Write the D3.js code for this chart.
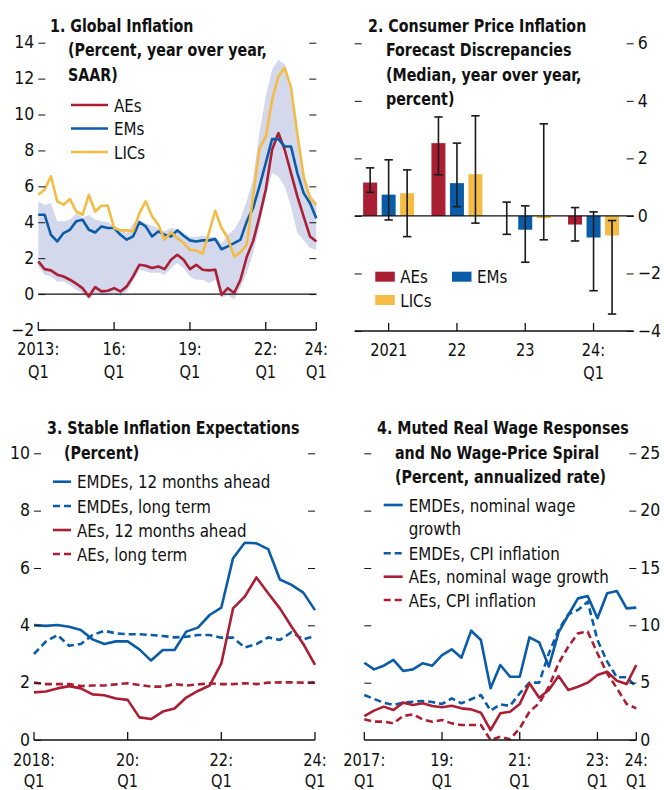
<!DOCTYPE html>
<html>
<head>
<meta charset="utf-8">
<script src="https://cdn.jsdelivr.net/npm/d3@7"></script>
<style>
  body { margin: 0; background: #fff; }
  svg text { font-family: "Liberation Sans Narrow", "DejaVu Sans Condensed", "Roboto Condensed", sans-serif; fill: #111; }
  .title { font-weight: bold; font-size: 18px; }
  .lbl { font-size: 18px; }
  .tick text { font-size: 17.5px; }
</style>
</head>
<body>
<script>
// ---- Panel 1: global inflation, quarterly 2013:Q1 - 2024:Q1 ----
const p1AEs = [1.82, 1.39, 1.32, 1.08, 0.98, 0.8, 0.58, 0.33, -0.13, 0.39, 0.15, 0.19, 0.33, 0.15, 0.43, 0.98,
  1.63, 1.58, 1.45, 1.54, 1.39, 1.91, 2.19, 1.91, 1.39, 1.63, 1.36, 1.32, 1.36, -0.04, 0.33, 0.06,
  0.8, 2.08, 2.95, 4.3, 5.81, 8.04, 8.97, 8.04, 6.74, 5.44, 4.32, 3.21, 2.93];
const p1EMs = [4.42, 4.42, 3.3, 2.93, 3.4, 3.58, 4.05, 4.14, 3.58, 3.43, 3.77, 3.68, 3.68, 3.3, 3.03, 3.21,
  4.0, 3.77, 3.21, 3.49, 3.3, 3.21, 3.55, 3.25, 2.99, 2.93, 2.99, 2.99, 3.06, 2.5, 2.66, 2.84,
  3.03, 4.05, 4.8, 6.0, 7.3, 8.63, 8.63, 8.22, 8.22, 6.74, 5.62, 5.07, 4.23];
const p1LICs = [5.53, 5.81, 6.56, 5.16, 4.98, 5.29, 4.6, 4.42, 5.53, 4.6, 4.92, 4.92, 3.68, 3.55, 3.55, 3.49,
  4.51, 5.16, 4.33, 3.86, 3.03, 3.45, 3.12, 2.84, 2.47, 2.43, 2.25, 3.4, 4.64, 3.68, 3.12, 2.09,
  2.32, 2.75, 5.5, 8.1, 8.75, 10.8, 12.1, 12.6, 11.5, 8.9, 6.55, 5.35, 4.97];
const p1BandHigh = [5.16, 4.98, 5.07, 4.05, 4.05, 4.14, 4.5, 4.25, 4.4, 4.15, 4.05, 4.0, 3.8, 3.6, 3.4, 3.95,
  4.15, 3.95, 3.8, 3.65, 3.5, 3.7, 3.6, 3.4, 3.2, 3.2, 3.25, 3.2, 3.2, 2.8, 3.3, 3.6,
  4.2, 5.2, 6.4, 9.0, 11.0, 12.5, 13.05, 12.8, 11.6, 8.6, 6.4, 5.6, 5.1];
const p1BandLow = [1.54, 1.08, 0.98, 0.7, 0.7, 0.5, 0.24, 0.05, -0.32, 0.05, -0.05, -0.05, 0.05, -0.1, 0.15, 0.7,
  1.36, 1.26, 1.17, 1.2, 1.08, 1.45, 1.73, 1.45, 0.98, 0.8, 0.8, 0.6, 0.8, -0.22, -0.05, -0.32,
  0.4, 1.17, 2.28, 3.77, 5.44, 6.74, 6.55, 5.99, 4.88, 3.4, 3.0, 2.56, 2.47];
const p1XTicks = [0, 12, 24, 36, 44];
const p1XLabels = [["2013:", "Q1"], ["16:", "Q1"], ["19:", "Q1"], ["22:", "Q1"], ["24:", "Q1"]];

// ---- Panel 2: forecast discrepancies ----
const p2Categories = ["2021", "22", "23", "24"];
const p2CatLabels = [["2021"], ["22"], ["23"], ["24:", "Q1"]];
const p2Series = ["AEs", "EMs", "LICs"];
const p2AEs = [1.16, 2.53, 0.0, -0.3];
const p2EMs = [0.74, 1.14, -0.48, -0.75];
const p2LICs = [0.79, 1.45, -0.08, -0.68];
const p2AEsLow = [0.82, 1.43, -0.64, -0.87];
const p2AEsHigh = [1.67, 3.44, 0.48, 0.29];
const p2EMsLow = [-0.14, 0.32, -1.61, -2.6];
const p2EMsHigh = [1.95, 2.53, 0.35, 0.14];
const p2LICsLow = [-0.72, -0.25, -0.83, -3.41];
const p2LICsHigh = [1.6, 3.48, 3.2, -0.16];

// ---- Panel 3: inflation expectations, 2018:Q1 - 2024:Q1 ----
const p3EMDEs12m = [4.01, 3.98, 4.01, 3.95, 3.84, 3.51, 3.35, 3.44, 3.44, 3.16, 2.77, 3.14, 3.14, 3.78, 3.92, 4.36,
  4.62, 6.34, 6.88, 6.86, 6.66, 5.6, 5.41, 5.14, 4.53];
const p3EMDEsLong = [3.0, 3.43, 3.66, 3.29, 3.35, 3.66, 3.81, 3.72, 3.69, 3.69, 3.66, 3.63, 3.58, 3.6, 3.66, 3.66,
  3.57, 3.57, 3.23, 3.34, 3.58, 3.49, 3.76, 3.51, 3.63];
const p3AEs12m = [1.66, 1.69, 1.8, 1.88, 1.8, 1.59, 1.56, 1.45, 1.4, 0.79, 0.73, 0.99, 1.1, 1.48, 1.71, 1.9,
  2.67, 4.59, 5.0, 5.67, 5.12, 4.59, 3.95, 3.35, 2.62];
const p3AEsLong = [2.0, 1.95, 1.95, 1.95, 1.88, 1.9, 1.9, 1.94, 1.98, 1.92, 1.86, 1.86, 1.95, 1.9, 1.94, 1.98,
  1.95, 1.95, 1.98, 1.95, 2.0, 2.01, 2.01, 2.0, 2.01];
const p3XTicks = [0, 8, 16, 24];
const p3XLabels = [["2018:", "Q1"], ["20:", "Q1"], ["22:", "Q1"], ["24:", "Q1"]];

// ---- Panel 4: wages and CPI, 2017:Q1 - 2024:Q1 ----
const p4EMDEsWage = [6.74, 6.16, 6.48, 6.98, 6.02, 6.16, 6.69, 6.48, 7.41, 7.91, 7.18, 9.53, 8.72, 4.51, 6.54, 5.52,
  5.52, 8.95, 8.52, 6.4, 9.39, 10.9, 12.35, 12.56, 10.61, 12.79, 12.99, 11.48, 11.54];
const p4EMDEsCPI = [3.92, 3.58, 3.26, 3.05, 3.26, 3.34, 3.4, 3.31, 3.14, 3.63, 3.2, 3.55, 3.92, 2.56, 3.11, 2.97,
  4.07, 5.0, 5.0, 7.56, 9.59, 10.96, 11.34, 12.06, 8.72, 6.83, 5.47, 5.47, 4.65];
const p4AEsWage = [2.09, 2.56, 2.91, 2.62, 3.26, 3.05, 3.2, 2.97, 2.85, 2.99, 2.76, 2.67, 2.38, 0.87, 2.33, 2.47,
  3.14, 4.94, 3.69, 4.36, 5.58, 4.36, 4.65, 5.0, 5.67, 5.96, 5.17, 4.88, 6.54];
const p4AEsCPI = [1.8, 1.6, 1.6, 1.45, 2.09, 2.24, 1.8, 1.6, 1.74, 1.45, 1.31, 1.31, 1.31, 0.0, 0.29, 0.06,
  1.02, 2.47, 3.2, 4.65, 6.69, 8.14, 9.3, 9.45, 7.56, 5.81, 4.51, 3.14, 2.76];
const p4XTicks = [0, 8, 16, 24, 28];
const p4XLabels = [["2017:", "Q1"], ["19:", "Q1"], ["21:", "Q1"], ["23:", "Q1"], ["24:", "Q1"]];

const RED = "#ab1f35", BLUE = "#0b5ca8", YELLOW = "#f4bb45", BAND = "#d3d8ec";

const svg = d3.select("body").append("svg")
  .attr("width", 664).attr("height", 790);

// the reference uses a narrow face, so squeeze text sideways a little
function label(cls, x, y, t, squeeze, anchor) {
  return svg.append("text").attr("class", cls)
    .attr("transform", `translate(${x},${y}) scale(${squeeze},1)`)
    .attr("text-anchor", anchor || "start").text(t);
}

function yAxis(xPos, scale, side, major, minor, labelled) {
  const mk = side === "left" ? d3.axisLeft : d3.axisRight;
  const g = svg.append("g").attr("transform", `translate(${xPos},0)`);
  g.call(mk(scale).tickValues(minor).tickSize(-3.5).tickFormat(""));
  g.call(mk(scale).tickValues(major).tickSizeInner(-7).tickSizeOuter(0).tickPadding(4)
    .tickFormat(labelled ? d3.format("d") : ""));
  g.selectAll(".domain").remove();
  g.selectAll(".tick line").attr("stroke", "#111");
  g.selectAll(".tick text").attr("dy", "0.3em");
}

function xAxis(y0, x0, x1, positions, labels, first, gap) {
  svg.append("line").attr("x1", x0).attr("x2", x1).attr("y1", y0).attr("y2", y0)
    .attr("stroke", "#111").attr("stroke-width", 1.3);
  positions.forEach((p, i) => {
    svg.append("line").attr("x1", p).attr("x2", p).attr("y1", y0 - 8).attr("y2", y0)
      .attr("stroke", "#111").attr("stroke-width", 1.3);
    labels[i].forEach((t, k) => {
      label("lbl", p, y0 + first + k * gap, t, 0.9, "middle");
    });
  });
}

function title(lines) {
  lines.forEach(([t, x, y]) => label("title", x, y, t, 0.88));
}

function series(x, y, values, color, dashed) {
  const line = d3.line().x((d, i) => x(i)).y(d => y(d));
  svg.append("path").datum(values).attr("d", line)
    .attr("fill", "none").attr("stroke", color).attr("stroke-width", 2.6)
    .attr("stroke-linejoin", "round")
    .attr("stroke-dasharray", dashed ? "7,4" : null);
}

function legendLines(items, x, len) {
  items.forEach(([name, color, dashed, y]) => {
    if (color) {
      svg.append("line").attr("x1", x).attr("x2", x + len).attr("y1", y).attr("y2", y)
        .attr("stroke", color).attr("stroke-width", 2.6)
        .attr("stroke-dasharray", dashed ? "7,4" : null);
    }
    label("lbl", x + len + 6, y + 6.5, name, 0.93);
  });
}

// ================= Panel 1 =================
{
  const x = d3.scaleLinear().domain([0, 44]).range([38.3, 316.3]);
  const y = d3.scaleLinear().domain([-2, 14]).range([330, 42.7]);

  const area = d3.area().x((d, i) => x(i)).y0((d, i) => y(p1BandLow[i])).y1(d => y(d));
  svg.append("path").datum(p1BandHigh).attr("d", area).attr("fill", BAND);

  svg.append("line").attr("x1", x(0)).attr("x2", x(44)).attr("y1", y(0)).attr("y2", y(0))
    .attr("stroke", "#111").attr("stroke-width", 1.2);

  series(x, y, p1AEs, RED);
  series(x, y, p1EMs, BLUE);
  series(x, y, p1LICs, YELLOW);

  yAxis(x(0), y, "left", d3.range(-2, 15, 2), d3.range(-1, 14, 2), true);
  yAxis(x(44), y, "right", d3.range(0, 15, 2), d3.range(-1, 14, 2), false);
  xAxis(y(-2), x(0), x(44), p1XTicks.map(x), p1XLabels, 24.5, 23);

  title([["1. Global Inflation", 50, 31.5], ["(Percent, year over year,", 68, 56], ["SAAR)", 68, 80.5]]);
  legendLines([["AEs", RED, false, 105], ["EMs", BLUE, false, 128.5], ["LICs", YELLOW, false, 152]], 71, 37);
}

// ================= Panel 2 =================
{
  const x = d3.scaleBand().domain(p2Categories).range([354.5, 627.7]);
  const inner = d3.scaleBand().domain(p2Series).range([-27.75, 27.75])
    .paddingInner(0.243).paddingOuter(0.1215);
  const y = d3.scaleLinear().domain([-4, 6]).range([331, 43.3]);
  const colors = d3.scaleOrdinal().domain(p2Series).range([RED, BLUE, YELLOW]);

  const rows = p2Categories.map((c, i) => [
    { cat: c, s: "AEs", v: p2AEs[i], lo: p2AEsLow[i], hi: p2AEsHigh[i] },
    { cat: c, s: "EMs", v: p2EMs[i], lo: p2EMsLow[i], hi: p2EMsHigh[i] },
    { cat: c, s: "LICs", v: p2LICs[i], lo: p2LICsLow[i], hi: p2LICsHigh[i] }
  ]).flat();
  const cx = d => x(d.cat) + x.bandwidth() / 2 + inner(d.s);

  svg.append("g").selectAll("rect").data(rows).enter().append("rect")
    .attr("x", cx)
    .attr("y", d => y(Math.max(0, d.v)))
    .attr("width", inner.bandwidth())
    .attr("height", d => Math.abs(y(d.v) - y(0)))
    .attr("fill", d => colors(d.s));

  svg.append("line").attr("x1", 354.7).attr("x2", 633.7).attr("y1", y(0)).attr("y2", y(0))
    .attr("stroke", "#111").attr("stroke-width", 1.2);

  const eb = svg.append("g").attr("stroke", "#1a1a1a").attr("stroke-width", 1.6);
  rows.forEach(d => {
    const m = cx(d) + inner.bandwidth() / 2;
    eb.append("line").attr("x1", m).attr("x2", m).attr("y1", y(d.lo)).attr("y2", y(d.hi));
    [d.lo, d.hi].forEach(v => {
      eb.append("line").attr("x1", m - 4.2).attr("x2", m + 4.2).attr("y1", y(v)).attr("y2", y(v));
    });
  });

  yAxis(354.7, y, "left", d3.range(-4, 7, 2), d3.range(-3, 6, 2), false);
  yAxis(633.7, y, "right", d3.range(-4, 7, 2), d3.range(-3, 6, 2), true);
  xAxis(y(-4), 354.7, 633.7, p2Categories.map(c => x(c) + x.bandwidth() / 2), p2CatLabels, 24.5, 23);

  title([["2. Consumer Price Inflation", 368, 31.5], ["Forecast Discrepancies", 386, 56],
    ["(Median, year over year,", 386, 80.5], ["percent)", 386, 104.5]]);

  [["AEs", RED, 375.3, 276.7], ["EMs", BLUE, 452, 276.7], ["LICs", YELLOW, 375.3, 300]].forEach(([n, c, lx, ly]) => {
    svg.append("rect").attr("x", lx).attr("y", ly - 5).attr("width", 19.5).attr("height", 10).attr("fill", c);
    label("lbl", lx + 25, ly + 6.5, n, 0.93);
  });
}

// ================= Panel 3 =================
{
  const x = d3.scaleLinear().domain([0, 24]).range([34, 315]);
  const y = d3.scaleLinear().domain([0, 10]).range([740, 453.3]);

  series(x, y, p3AEsLong, RED, true);
  series(x, y, p3EMDEsLong, BLUE, true);
  series(x, y, p3AEs12m, RED);
  series(x, y, p3EMDEs12m, BLUE);

  yAxis(x(0), y, "left", d3.range(0, 11, 2), d3.range(1, 10, 2), true);
  yAxis(x(24), y, "right", d3.range(2, 11, 2), d3.range(1, 10, 2), false);
  xAxis(y(0), x(0), x(24), p3XTicks.map(x), p3XLabels, 26, 20.5);

  title([["3. Stable Inflation Expectations", 47, 434.3], ["(Percent)", 64, 459.3]]);
  legendLines([["EMDEs, 12 months ahead", BLUE, false, 481.7], ["EMDEs, long term", BLUE, true, 506],
    ["AEs, 12 months ahead", RED, false, 530], ["AEs, long term", RED, true, 554]], 53, 18);
}

// ================= Panel 4 =================
{
  const x = d3.scaleLinear().domain([0, 28]).range([364.3, 636.3]);
  const y = d3.scaleLinear().domain([0, 25]).range([740, 453.3]);

  series(x, y, p4AEsCPI, RED, true);
  series(x, y, p4EMDEsCPI, BLUE, true);
  series(x, y, p4AEsWage, RED);
  series(x, y, p4EMDEsWage, BLUE);

  yAxis(x(0), y, "left", d3.range(5, 26, 5), d3.range(2.5, 25, 5), false);
  yAxis(x(28), y, "right", d3.range(0, 26, 5), d3.range(2.5, 25, 5), true);
  xAxis(y(0), x(0), x(28), p4XTicks.map(x), p4XLabels, 26, 20.5);

  title([["4. Muted Real Wage Responses", 377, 434.3], ["and No Wage-Price Spiral", 395, 459.3],
    ["(Percent, annualized rate)", 395, 483.3]]);
  legendLines([["EMDEs, nominal wage", BLUE, false, 505], ["growth", null, false, 528.3],
    ["EMDEs, CPI inflation", BLUE, true, 553.3], ["AEs, nominal wage growth", RED, false, 576.7],
    ["AEs, CPI inflation", RED, true, 600]], 383.7, 19);
}
</script>
</body>
</html>
